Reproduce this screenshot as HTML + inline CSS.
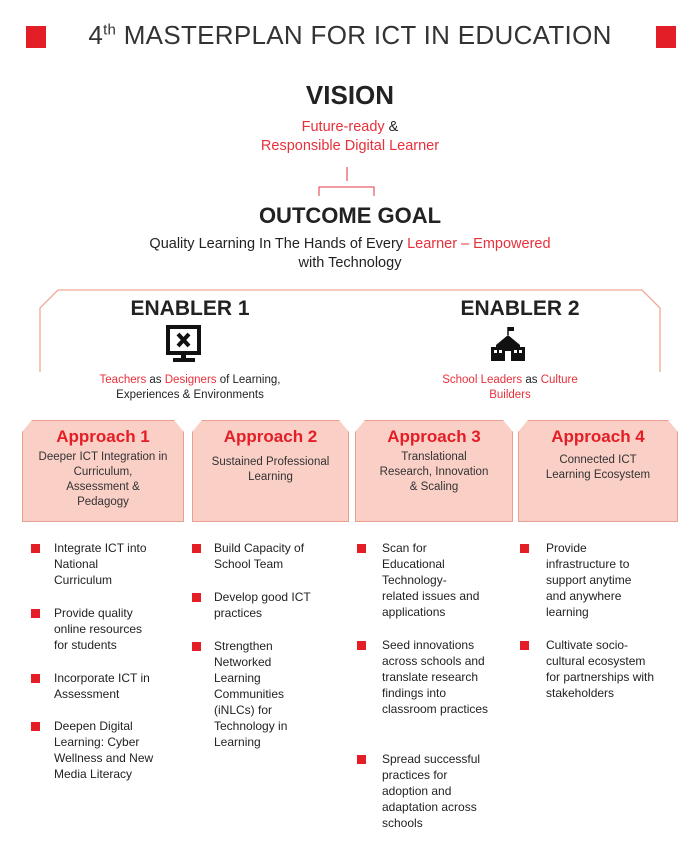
<!DOCTYPE html>
<html><head><meta charset="utf-8"><style>
body{margin:0;width:700px;height:846px;background:#fff;position:relative;overflow:hidden;font-family:"Liberation Sans",sans-serif;color:#222}
.a{position:absolute}
.r{color:#e8303a}
.c{text-align:center}
.sq{position:absolute;width:9px;height:9px;background:#e41e26}
.bl{position:absolute;font-size:12px;line-height:16px;color:#222}
.ap{position:absolute;top:420px;height:100px;background:#f9cfc6;border:1px solid #e9a092;clip-path:polygon(10px 0,calc(100% - 10px) 0,100% 12px,100% 100%,0 100%,0 12px);text-align:center}
.ap h3{margin:6px 0 3px;font-size:17px;color:#e41e26;font-weight:bold}
.ap p{margin:0 auto;font-size:11.5px;line-height:15px;color:#333}
</style></head><body>
<div class="a" style="left:26px;top:26px;width:20px;height:22px;background:#e41e26"></div>
<div class="a" style="left:656px;top:26px;width:20px;height:22px;background:#e41e26"></div>
<div class="a c" style="left:60px;width:580px;top:20px;font-size:26px;color:#333;letter-spacing:0.3px">4<sup style="font-size:15px">th</sup> MASTERPLAN FOR ICT IN EDUCATION</div>
<div class="a c" style="left:0;width:700px;top:80px;font-size:26px;font-weight:bold">VISION</div>
<div class="a c" style="left:0;width:700px;top:118px;font-size:14.5px;line-height:19px"><span class="r">Future-ready</span> &amp;<br><span class="r">Responsible Digital Learner</span></div>
<svg class="a" style="left:0;top:0" width="700" height="846"><path d="M347 167V181M319 196V187H374V196" fill="none" stroke="#e8606a" stroke-width="1.3"/>
<path d="M40 372V308L58 290H642L660 308V372" fill="none" stroke="#f0a896" stroke-width="1.3"/></svg>
<div class="a c" style="left:0;width:700px;top:203px;font-size:22px;font-weight:bold">OUTCOME GOAL</div>
<div class="a c" style="left:0;width:700px;top:235px;font-size:14.5px;line-height:19px">Quality Learning In The Hands of Every <span class="r">Learner – Empowered</span><br>with Technology</div>
<div class="a c" style="left:90px;width:200px;top:297px;font-size:21px;font-weight:bold">ENABLER 1</div>
<div class="a c" style="left:420px;width:200px;top:297px;font-size:21px;font-weight:bold">ENABLER 2</div>
<svg class="a" style="left:166px;top:325px" width="36" height="40"><rect x="2" y="2" width="31" height="26" fill="none" stroke="#111" stroke-width="4"/><path d="M12 9L23 21M23 9L12 21" stroke="#111" stroke-width="4"/><rect x="15" y="28" width="5" height="6" fill="#111"/><rect x="7" y="33" width="22" height="4" fill="#111"/></svg>
<svg class="a" style="left:491px;top:325px" width="34" height="38"><path d="M17 2V10" stroke="#111" stroke-width="1.5"/><path d="M17 2h6v4h-6z" fill="#111"/><path d="M5 20L17 10L29 20V36H5Z" fill="#111"/><rect x="0" y="22" width="34" height="14" fill="#111"/><rect x="14" y="26" width="6" height="10" fill="#fff"/><rect x="3" y="25" width="3" height="3" fill="#fff"/><rect x="8" y="25" width="3" height="3" fill="#fff"/><rect x="23" y="25" width="3" height="3" fill="#fff"/><rect x="28" y="25" width="3" height="3" fill="#fff"/></svg>
<div class="a c" style="left:60px;width:260px;top:373px;font-size:11.5px;line-height:15px"><span class="r">Teachers</span> as <span class="r">Designers</span> of Learning,<br>Experiences &amp; Environments</div>
<div class="a c" style="left:410px;width:200px;top:373px;font-size:11.5px;line-height:15px"><span class="r">School Leaders</span> as <span class="r">Culture<br>Builders</span></div>
<div class="ap" style="left:22px;width:160px"><h3>Approach 1</h3><p style="width:140px">Deeper ICT Integration in Curriculum,<br>Assessment &amp;<br>Pedagogy</p></div>
<div class="ap" style="left:192px;width:155px"><h3>Approach 2</h3><p style="margin-top:8px">Sustained Professional<br>Learning</p></div>
<div class="ap" style="left:355px;width:156px"><h3>Approach 3</h3><p>Translational<br>Research, Innovation<br>&amp; Scaling</p></div>
<div class="ap" style="left:518px;width:158px"><h3>Approach 4</h3><p style="margin-top:6px">Connected ICT<br>Learning Ecosystem</p></div>

<div class="sq" style="left:31px;top:544px"></div><div class="bl" style="left:54px;top:540px;width:105px">Integrate ICT into National Curriculum</div>
<div class="sq" style="left:31px;top:609px"></div><div class="bl" style="left:54px;top:605px;width:100px">Provide quality online resources for students</div>
<div class="sq" style="left:31px;top:674px"></div><div class="bl" style="left:54px;top:670px;width:105px">Incorporate ICT in Assessment</div>
<div class="sq" style="left:31px;top:722px"></div><div class="bl" style="left:54px;top:718px;width:112px">Deepen Digital Learning: Cyber Wellness and New Media Literacy</div>

<div class="sq" style="left:192px;top:544px"></div><div class="bl" style="left:214px;top:540px;width:100px">Build Capacity of School Team</div>
<div class="sq" style="left:192px;top:593px"></div><div class="bl" style="left:214px;top:589px;width:105px">Develop good ICT practices</div>
<div class="sq" style="left:192px;top:642px"></div><div class="bl" style="left:214px;top:638px;width:100px">Strengthen Networked Learning Communities (iNLCs) for Technology in Learning</div>

<div class="sq" style="left:357px;top:544px"></div><div class="bl" style="left:382px;top:540px;width:98px">Scan for Educational Technology-related issues and applications</div>
<div class="sq" style="left:357px;top:641px"></div><div class="bl" style="left:382px;top:637px;width:108px">Seed innovations across schools and translate research findings into classroom practices</div>
<div class="sq" style="left:357px;top:755px"></div><div class="bl" style="left:382px;top:751px;width:102px">Spread successful practices for adoption and adaptation across schools</div>

<div class="sq" style="left:520px;top:544px"></div><div class="bl" style="left:546px;top:540px;width:98px">Provide infrastructure to support anytime and anywhere learning</div>
<div class="sq" style="left:520px;top:641px"></div><div class="bl" style="left:546px;top:637px;width:110px">Cultivate socio-cultural ecosystem for partnerships with stakeholders</div>
</body></html>
